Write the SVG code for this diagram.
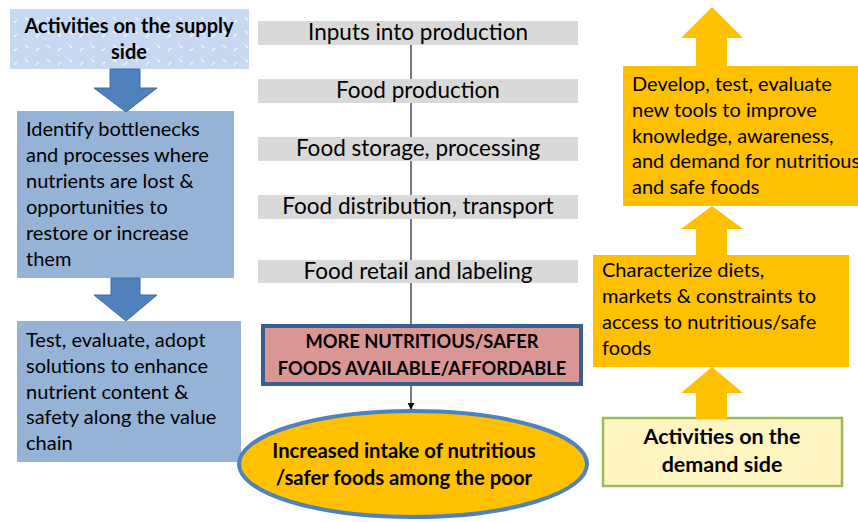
<svg xmlns="http://www.w3.org/2000/svg" width="858" height="522" viewBox="0 0 858 522">
<defs>
  <pattern id="dash" width="22" height="14" patternUnits="userSpaceOnUse">
    <rect width="22" height="14" fill="#C6D9F1"/>
    <path d="M3 3 L6 6 M14 9 L17 6" stroke="#FFFFFF" stroke-width="1.2" opacity="0.8"/>
  </pattern>
  <marker id="ah" viewBox="0 0 10 10" refX="9" refY="5" markerWidth="6" markerHeight="6" orient="auto">
    <path d="M0 0 L10 5 L0 10 Z" fill="#000"/>
  </marker>
</defs>
<style>
  .t{font-family:Lato,"Liberation Sans",sans-serif;font-size:20px;fill:#000}
  .b{font-family:Lato,"Liberation Sans",sans-serif;font-size:20px;font-weight:bold;fill:#000;text-anchor:middle}
  .pk{font-size:18.3px}
  .el{font-size:20.3px}
  .dm{font-size:21.5px}
  .bar{fill:#D9D9D9}
  .bt{font-family:Lato,"Liberation Sans",sans-serif;font-size:22.5px;fill:#000;text-anchor:middle}
  .blue{fill:#95B3D7}
  .orange{fill:#FFC000}
  .barrow{fill:#4F81BD;stroke:#3C6DA6;stroke-width:1}
  .yarrow{fill:#FFC000}
  .ln{stroke:#222;stroke-width:1.2;fill:none}
</style>
<rect width="858" height="522" fill="#fff"/>

<g id="supply-title">
  <rect x="10" y="9" width="239" height="60" fill="url(#dash)"/>
  <text class="b" x="129" y="33">Activities on the supply</text>
  <text class="b" x="129" y="59">side</text>
</g>
<g id="supply-identify">
  <rect class="blue" x="17" y="111" width="217" height="167"/>
  <text class="t"><tspan x="26" y="136">Identify bottlenecks</tspan><tspan x="26" y="162">and processes where</tspan><tspan x="26" y="188">nutrients are lost &amp;</tspan><tspan x="26" y="214">opportunities to</tspan><tspan x="26" y="240">restore or increase</tspan><tspan x="26" y="266">them</tspan></text>
</g>
<g id="supply-test">
  <rect class="blue" x="17" y="321" width="224" height="141"/>
  <text class="t"><tspan x="26" y="347">Test, evaluate, adopt</tspan><tspan x="26" y="373">solutions to enhance</tspan><tspan x="26" y="399">nutrient content &amp;</tspan><tspan x="26" y="424">safety along the value</tspan><tspan x="26" y="450">chain</tspan></text>
</g>

<g id="inputs"><rect class="bar" x="258" y="21" width="320" height="24"/><text class="bt" x="418" y="40">Inputs into production</text></g>
<g id="production"><rect class="bar" x="258" y="79" width="320" height="24"/><text class="bt" x="418" y="98">Food production</text></g>
<g id="storage"><rect class="bar" x="258" y="137" width="320" height="24"/><text class="bt" x="418" y="156">Food storage, processing</text></g>
<g id="distribution"><rect class="bar" x="258" y="195" width="320" height="24"/><text class="bt" x="418" y="214">Food distribution, transport</text></g>
<g id="retail"><rect class="bar" x="258" y="260" width="320" height="23"/><text class="bt" x="418" y="279">Food retail and labeling</text></g>

<g id="more-nutritious">
  <rect x="263" y="326" width="318" height="58" fill="#D99694" stroke="#3A5F8F" stroke-width="4"/>
  <text class="b pk" x="422" y="348">MORE NUTRITIOUS/SAFER</text>
  <text class="b pk" x="422" y="375">FOODS AVAILABLE/AFFORDABLE</text>
</g>
<g id="intake">
  <ellipse cx="413" cy="464" rx="174" ry="53" fill="#FFC000" stroke="#4F81BD" stroke-width="4"/>
  <text class="b el" x="404" y="458">Increased intake of nutritious</text>
  <text class="b el" x="404" y="485">/safer foods among the poor</text>
</g>

<g id="demand-develop">
  <rect class="orange" x="623" y="66" width="240" height="140"/>
  <text class="t"><tspan x="632" y="91">Develop, test, evaluate</tspan><tspan x="632" y="117">new tools to improve</tspan><tspan x="632" y="143">knowledge, awareness,</tspan><tspan x="632" y="168">and demand for nutritious</tspan><tspan x="632" y="194">and safe foods</tspan></text>
</g>
<g id="demand-characterize">
  <rect class="orange" x="593" y="255" width="256" height="112"/>
  <text class="t"><tspan x="602" y="277">Characterize diets,</tspan><tspan x="602" y="303">markets &amp; constraints to</tspan><tspan x="602" y="329">access to nutritious/safe</tspan><tspan x="602" y="355">foods</tspan></text>
</g>
<g id="demand-title">
  <rect x="603" y="418" width="239" height="68" fill="#FFF5C0" stroke="#9BBB59" stroke-width="2.5"/>
  <text class="b dm" x="722" y="444">Activities on the</text>
  <text class="b dm" x="722" y="472">demand side</text>
</g>

<g id="connectors">
  <path class="ln" d="M411 45 V79 M411 103 V137 M411 161 V195 M411 219 V260 M411 283 V324"/>
  <path class="ln" d="M411 386 V409" marker-end="url(#ah)"/>
  <path class="barrow" d="M110 69 H140 V88 H157 L126 112 L94 88 H110 Z"/>
  <path class="barrow" d="M111 278 H140 V295 H157 L126 321 L94 295 H111 Z"/>
  <path class="yarrow" d="M696 66 V38 H681 L712 7 L743 38 H727 V66 Z"/>
  <path class="yarrow" d="M696 255 V229 H681 L712 206 L743 229 H727 V255 Z"/>
  <path class="yarrow" d="M696 419 V393 H681 L712 367 L743 393 H727 V419 Z"/>
</g>
</svg>
